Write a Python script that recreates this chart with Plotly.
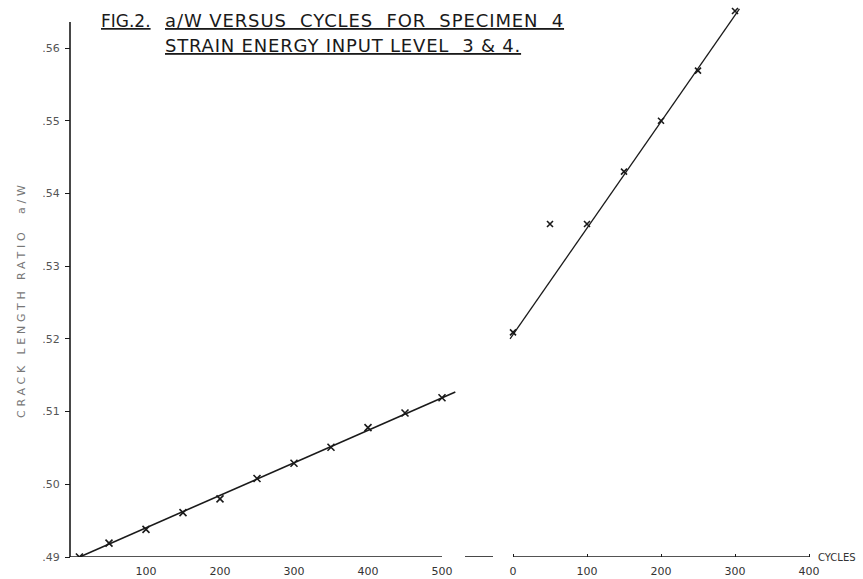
import plotly.graph_objects as go

# ---- data ----
# Strain energy input level 3 (left segment)
cycles_l3 = [10, 50, 100, 150, 200, 250, 300, 350, 400, 450, 500]
aw_l3 = [0.4900, 0.4919, 0.4938, 0.4961, 0.4980, 0.5008, 0.5029, 0.5051, 0.5078, 0.5098, 0.5119]
fit_l3_x = [8, 518]
fit_l3_y = [0.4899, 0.5127]

# Strain energy input level 4 (right segment)
cycles_l4 = [0, 50, 100, 150, 200, 250, 300]
aw_l4 = [0.5209, 0.5358, 0.5358, 0.5430, 0.5500, 0.5569, 0.5651]
fit_l4_x = [-4, 306]
fit_l4_y = [0.5200, 0.5654]

ticks_left = [100, 200, 300, 400, 500]
ticks_right = [0, 100, 200, 300, 400]
y_ticks = [0.49, 0.50, 0.51, 0.52, 0.53, 0.54, 0.55, 0.56]
y_ticktext = [".49", ".50", ".51", ".52", ".53", ".54", ".55", ".56"]

W, H = 863, 579
INK = "#1a1a1a"
FONT = "DejaVu Sans"

fig = go.Figure()

fig.add_trace(go.Scatter(x=fit_l3_x, y=fit_l3_y, mode="lines",
                         line=dict(color=INK, width=1.6), xaxis="x", yaxis="y",
                         showlegend=False, hoverinfo="skip"))
fig.add_trace(go.Scatter(x=cycles_l3, y=aw_l3, mode="markers",
                         marker=dict(symbol="x-thin", size=7, line=dict(color=INK, width=1.6)),
                         xaxis="x", yaxis="y", showlegend=False))
fig.add_trace(go.Scatter(x=fit_l4_x, y=fit_l4_y, mode="lines",
                         line=dict(color=INK, width=1.3), xaxis="x2", yaxis="y",
                         showlegend=False, hoverinfo="skip"))
fig.add_trace(go.Scatter(x=cycles_l4, y=aw_l4, mode="markers",
                         marker=dict(symbol="x-thin", size=6, line=dict(color=INK, width=1.6)),
                         xaxis="x2", yaxis="y", showlegend=False))

# pixel helpers for axis layout
px_per_100 = 74.0
left_zero_px = 72.0
right_zero_px = 513.0
scale = px_per_100 / 100.0

x_range = [-left_zero_px / scale, (W - left_zero_px) / scale]
x2_range = [-right_zero_px / scale, (W - right_zero_px) / scale]

B = 22  # bottom margin in px: .49 line sits at y=557
PH = H - B  # plot-area height in px
px_per_01 = 72.7
y_top = 0.49 + PH / px_per_01 * 0.01


def py(pix):
    """paper y for a pixel row measured from the top"""
    return 1 - pix / PH


axis_font = dict(family=FONT, size=11, color="#333")

fig.update_layout(
    width=W, height=H,
    margin=dict(l=0, r=0, t=0, b=B, pad=0),
    paper_bgcolor="white", plot_bgcolor="white",
    xaxis=dict(domain=[0, 1], range=x_range, tickvals=ticks_left,
               ticktext=[str(v) for v in ticks_left], ticks="",
               ticklabelstandoff=6, showgrid=False, zeroline=False,
               showline=False, tickfont=axis_font, fixedrange=True),
    xaxis2=dict(domain=[0, 1], range=x2_range, overlaying="x", anchor="y",
                tickvals=ticks_right, ticktext=[str(v) for v in ticks_right],
                ticks="inside", ticklen=3, tickwidth=1.2, tickcolor=INK,
                ticklabelstandoff=6, showgrid=False, zeroline=False,
                showline=False, tickfont=axis_font, fixedrange=True),
    yaxis=dict(range=[0.49, y_top], anchor="free", position=70 / W,
               tickvals=y_ticks, ticktext=y_ticktext, ticks="outside",
               ticklen=5, tickwidth=1.2, tickcolor=INK, ticklabelstandoff=3,
               showgrid=False, zeroline=False, showline=False,
               tickfont=dict(family=FONT, size=11, color="#555"), fixedrange=True),
)

# axis lines
shapes = [
    dict(type="line", xref="x", yref="y", x0=-3, x1=max(ticks_left), y0=0.49, y1=0.49,
         line=dict(color=INK, width=1.6)),
    dict(type="line", xref="x2", yref="y", x0=min(ticks_right), x1=max(ticks_right),
         y0=0.49, y1=0.49, line=dict(color=INK, width=1.6)),
    dict(type="line", xref="paper", yref="y", x0=465 / W, x1=493 / W, y0=0.49, y1=0.49,
         line=dict(color=INK, width=1.6)),
    dict(type="line", xref="paper", yref="y", x0=70 / W, x1=70 / W, y0=0.49, y1=0.5636,
         line=dict(color=INK, width=1.6)),
]
fig.update_layout(shapes=shapes)

title_font = dict(family=FONT, size=18, color=INK)
fig.add_annotation(text="<u>FIG.2.</u>", xref="paper", yref="paper",
                   x=99 / W, y=py(21), xanchor="left", yanchor="middle",
                   showarrow=False, font=dict(family=FONT, size=17, color=INK))
fig.add_annotation(text="<u><span style='letter-spacing:0.9px'>a/W VERSUS  CYCLES  FOR  SPECIMEN  4</span></u>",
                   xref="paper", yref="paper",
                   x=163 / W, y=py(20), xanchor="left", yanchor="middle",
                   showarrow=False, font=title_font)
fig.add_annotation(text="<u><span style='letter-spacing:0.8px'>STRAIN ENERGY INPUT LEVEL  3 & 4.</span></u>",
                   xref="paper", yref="paper",
                   x=163 / W, y=py(46), xanchor="left", yanchor="middle",
                   showarrow=False, font=title_font)
fig.add_annotation(text="<span style='letter-spacing:3.8px'>CRACK LENGTH RATIO  a/W</span>",
                   xref="paper", yref="paper",
                   x=21 / W, y=py(300), xanchor="center", yanchor="middle",
                   textangle=-90, showarrow=False,
                   font=dict(family=FONT, size=11, color="#777"))
fig.add_annotation(text="CYCLES", xref="paper", yref="paper",
                   x=816 / W, y=py(557), xanchor="left", yanchor="middle",
                   showarrow=False, font=dict(family=FONT, size=10, color="#333"))

fig.write_html("out.html", config={"displayModeBar": False},
               post_script="document.body.style.margin='0';")
